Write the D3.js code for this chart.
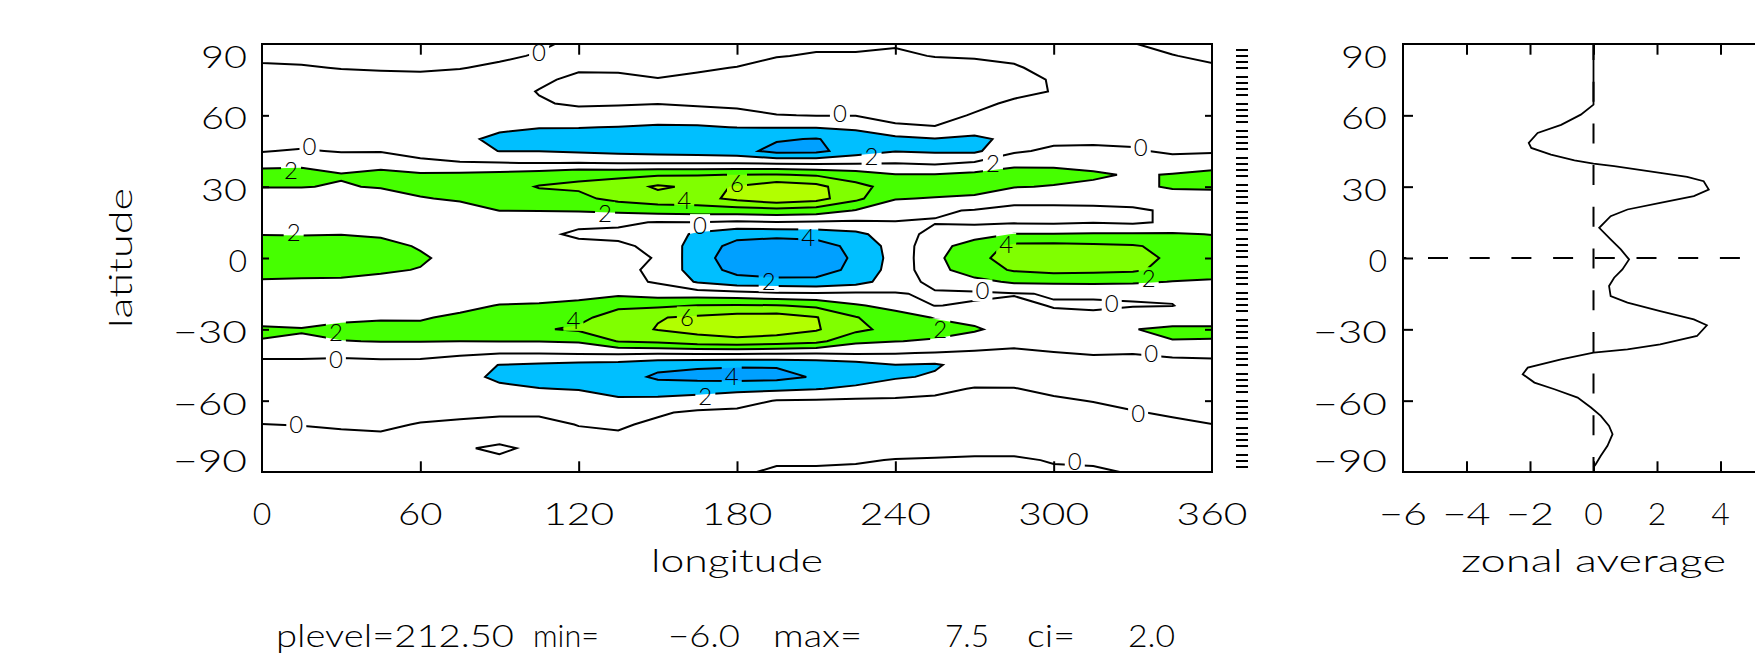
<!DOCTYPE html>
<html>
<head>
<meta charset="utf-8">
<title>plevel 212.50</title>
<script src="https://cdn.jsdelivr.net/npm/d3@7/dist/d3.min.js"></script>
<style>
  body { margin: 0; background: #ffffff; }
  svg text { font-family: Lato, "DejaVu Sans", sans-serif; font-weight: 300; fill: #000; }
</style>
</head>
<body>
<svg id="chart" width="1755" height="664"></svg>
<script>
// grid of the field: longitudes (columns) and latitudes (rows, north to south)
var lons = [0, 15, 30, 45, 60, 75, 90, 105, 120, 135, 150, 165, 180, 195, 210, 225, 240, 255, 270, 285, 300, 315, 330, 345, 360];
var lats = [90, 85, 80, 75, 70, 65, 60, 55, 50, 45, 40, 35, 30, 25, 20, 15, 10, 5, 0,
            -5, -10, -15, -20, -25, -30, -35, -40, -45, -50, -55, -60, -65, -70, -75, -80, -85, -90];

// values, one row per latitude
var field = [
  [0.6, 0.6, 0.6, 0.6, 0.6, 0.6, 0.5, 0.2, -0.3, -0.4, -0.5, -0.5, -0.5, -0.3, -0.2, -0.2, -0.1, -0.1, -0.2, -0.2, -0.2, -0.2, -0.05, 0.4, 0.6],
  [0.3, 0.3, 0.4, 0.4, 0.4, 0.3, 0.2, -0.1, -0.4, -0.5, -0.6, -0.6, -0.5, -0.05, 0.1, 0.1, 0.2, -0.05, -0.1, -0.1, -0.2, -0.2, -0.1, -0.05, 0.3],
  [-0.2, -0.1, 0.05, 0.1, 0.15, 0.05, -0.2, -0.5, -0.3, -0.3, -0.3, -0.2, 0.05, 0.4, 0.6, 0.6, 0.6, 0.5, 0.3, 0.05, -0.15, -0.2, -0.3, -0.3, -0.2],
  [-0.6, -0.5, -0.4, -0.3, -0.3, -0.4, -0.6, -0.4, 0.5, 0.4, 0.05, 0.3, 0.6, 0.9, 1.1, 1.0, 0.9, 0.8, 0.6, 0.4, -0.1, -0.3, -0.4, -0.5, -0.6],
  [-0.8, -0.8, -0.7, -0.7, -0.7, -0.8, -0.9, 0.1, 0.9, 0.8, 0.6, 0.7, 0.9, 1.1, 1.2, 1.1, 1.0, 0.8, 0.5, 0.3, -0.05, -0.4, -0.5, -0.6, -0.8],
  [-1.0, -1.0, -0.9, -0.9, -0.9, -1.0, -1.1, -0.2, 0.3, 0.2, 0.05, 0.3, 0.5, 0.7, 0.8, 0.7, 0.7, 0.6, 0.3, -0.2, -0.3, -0.5, -0.6, -0.7, -1.0],
  [-1.1, -1.1, -1.0, -1.0, -1.0, -1.2, -1.3, -1.2, -0.9, -1.0, -1.2, -1.0, -0.7, -0.05, 0.05, 0.05, 0.4, 0.4, -0.1, -0.6, -0.6, -0.6, -0.7, -0.8, -1.1],
  [-1.2, -1.2, -1.1, -1.1, -1.1, -1.4, -1.6, -1.95, -1.95, -2.05, -2.2, -2.2, -1.95, -1.9, -1.9, -1.6, -0.2, -0.05, -0.8, -0.9, -0.8, -0.7, -0.7, -0.9, -1.2],
  [-1.0, -0.9, -0.8, -0.8, -0.9, -1.5, -2.5, -2.6, -2.8, -3.0, -3.2, -3.4, -3.6, -3.8, -4.1, -3.2, -2.6, -2.1, -2.5, -1.4, -0.5, -0.4, -0.4, -0.8, -1.0],
  [-0.1, 0.2, -0.15, -0.1, -0.6, -1.0, -2.05, -2.05, -2.3, -2.6, -2.8, -3.0, -3.3, -4.6, -4.5, -3.0, -2.1, -2.3, -2.4, -0.3, 0.4, 0.4, 0.2, -0.3, -0.2],
  [1.1, 1.3, 1.2, 1.2, 0.4, 0.1, 0.05, -0.05, 0.05, -0.1, -0.1, -0.1, -0.1, -0.3, -0.4, -0.2, -0.05, -0.3, 0.2, 1.5, 1.6, 1.3, 1.0, 0.8, 1.0],
  [3.0, 3.0, 2.1, 2.6, 2.3, 2.4, 2.6, 3.0, 3.6, 3.6, 3.8, 3.9, 4.05, 4.1, 3.8, 3.0, 2.1, 2.1, 2.5, 2.8, 2.6, 2.3, 1.8, 2.1, 2.6],
  [2.05, 2.05, 1.9, 2.1, 2.5, 2.8, 3.2, 4.1, 4.3, 4.9, 6.3, 5.6, 6.1, 7.2, 6.6, 4.6, 3.2, 2.9, 2.9, 2.1, 1.9, 1.6, 1.6, 2.2, 2.2],
  [1.4, 1.3, 1.3, 1.4, 1.9, 2.2, 2.8, 3.3, 3.5, 4.6, 5.2, 5.3, 6.5, 7.5, 6.8, 4.5, 2.1, 1.9, 1.6, 0.5, 0.4, 0.3, 0.8, 1.2, 1.4],
  [1.0, 1.0, 1.0, 1.0, 1.1, 1.4, 2.02, 2.05, 2.15, 2.4, 2.8, 3.0, 3.1, 3.3, 3.0, 1.9, 0.9, 0.2, -0.1, -0.4, -0.3, -0.2, -0.3, 0.3, 1.0],
  [1.0, 1.0, 1.1, 1.0, 0.9, 0.9, 1.2, 1.0, 0.4, 0.3, -0.1, -0.05, -0.3, -0.1, -0.2, -0.3, -0.1, -0.1, -0.3, -0.2, -0.3, -0.1, -0.3, 0.3, 1.0],
  [1.95, 1.9, 1.95, 1.7, 1.0, 0.7, 0.8, 0.4, -0.3, -0.4, -0.6, -2.4, -3.4, -3.4, -3.2, -2.5, -0.9, 0.6, 1.2, 2.1, 2.1, 2.2, 2.2, 2.2, 1.95],
  [2.8, 2.9, 3.0, 2.7, 1.8, 0.8, 0.7, 0.6, 0.5, 0.3, -0.4, -3.0, -4.6, -5.2, -4.9, -3.4, -1.2, 1.3, 2.9, 4.5, 4.6, 4.4, 4.2, 3.4, 2.8],
  [3.0, 3.1, 3.2, 2.9, 2.3, 1.2, 0.8, 0.7, 0.6, 0.5, -0.1, -3.2, -5.0, -5.9, -5.5, -3.6, -1.3, 1.5, 3.6, 4.6, 5.0, 4.9, 4.6, 3.7, 3.0],
  [2.7, 2.7, 2.8, 2.3, 1.9, 0.8, 0.7, 0.6, 0.5, 0.5, -0.4, -3.0, -4.6, -5.3, -5.0, -3.4, -1.2, 1.3, 3.1, 4.2, 4.6, 4.5, 4.3, 3.4, 2.7],
  [1.8, 1.7, 1.6, 1.4, 1.1, 0.6, 0.6, 0.6, 0.5, 0.6, -0.2, -2.2, -3.2, -3.3, -3.4, -2.8, -0.9, 0.5, 1.4, 2.3, 2.4, 2.4, 2.3, 1.95, 1.8],
  [1.2, 1.1, 1.0, 0.9, 0.8, 0.7, 1.0, 1.2, 1.4, 1.6, 1.2, 1.0, 0.7, 0.3, 0.2, 0.3, 0.1, -0.2, -0.3, -0.1, 0.1, 0.2, 0.2, 0.3, 1.2],
  [1.0, 0.9, 0.9, 0.9, 1.0, 1.4, 2.1, 2.2, 2.5, 3.6, 3.6, 4.05, 4.2, 4.1, 3.6, 2.2, 1.4, -0.05, 0.2, 0.4, -0.1, -0.2, -0.1, -0.05, 1.0],
  [1.4, 1.2, 1.6, 1.8, 1.8, 2.4, 2.9, 3.3, 3.5, 4.9, 5.9, 6.3, 6.8, 6.9, 6.1, 4.1, 2.8, 1.9, 1.5, 1.0, 0.4, 0.3, 0.9, 1.1, 1.4],
  [2.2, 2.1, 2.5, 2.6, 2.5, 2.7, 3.0, 3.8, 4.3, 5.2, 6.1, 6.6, 7.0, 6.8, 6.2, 4.5, 3.3, 2.7, 2.2, 1.3, 0.8, 0.9, 1.95, 2.3, 2.2],
  [1.95, 1.8, 1.95, 2.05, 2.05, 2.02, 2.05, 2.05, 2.2, 4.1, 4.5, 5.2, 5.5, 5.2, 4.6, 2.4, 2.05, 1.8, 1.2, 0.6, 0.5, 0.8, 1.6, 1.95, 1.95],
  [0.6, 0.6, 0.5, 0.65, 0.6, 0.3, 0.05, 0.1, 0.2, 0.3, 0.2, 0.3, 0.3, 0.2, 0.1, 0.2, 0.1, -0.1, -0.3, -0.4, -0.05, 0.1, 0.05, 0.4, 0.5],
  [-0.6, -0.6, -0.7, -0.6, -0.6, -1.0, -2.05, -2.3, -2.6, -2.8, -3.5, -3.7, -3.8, -3.8, -3.4, -2.8, -2.05, -2.2, -1.2, -0.8, -0.6, -0.5, -0.6, -0.7, -0.6],
  [-1.0, -1.0, -1.0, -1.0, -1.0, -1.3, -2.4, -2.8, -3.0, -3.2, -4.3, -4.6, -4.8, -4.6, -3.8, -3.0, -2.2, -1.8, -0.9, -0.5, -0.7, -0.8, -0.9, -1.0, -1.0],
  [-1.1, -1.1, -1.1, -1.1, -1.1, -1.2, -1.6, -1.95, -2.1, -2.7, -3.0, -2.8, -2.5, -2.4, -2.1, -1.6, -1.0, -0.4, 0.1, 0.05, -0.3, -0.6, -0.8, -1.0, -1.1],
  [-0.9, -0.9, -0.9, -0.9, -0.9, -1.0, -1.0, -1.2, -1.2, -1.7, -1.5, -1.2, -0.8, 0.1, 0.2, 0.3, 0.3, 0.3, 0.4, 0.4, 0.2, -0.05, -0.4, -0.7, -0.9],
  [-0.5, -0.5, -0.6, -0.6, -0.5, -0.4, -0.2, -0.2, -0.6, -0.9, -0.2, 0.3, 0.4, 0.5, 0.5, 0.5, 0.5, 0.5, 0.5, 0.5, 0.5, 0.4, 0.1, -0.2, -0.5],
  [0.02, -0.05, -0.2, -0.3, 0.1, 0.3, 0.4, 0.4, -0.05, -0.2, 0.3, 0.5, 0.5, 0.5, 0.5, 0.5, 0.5, 0.5, 0.5, 0.5, 0.5, 0.5, 0.4, 0.3, 0.02],
  [0.4, 0.4, 0.3, 0.2, 0.4, 0.4, 0.3, 0.4, 0.3, 0.2, 0.4, 0.4, 0.4, 0.4, 0.4, 0.4, 0.4, 0.4, 0.4, 0.4, 0.4, 0.4, 0.4, 0.4, 0.4],
  [0.5, 0.5, 0.5, 0.5, 0.5, 0.1, -0.15, 0.2, 0.4, 0.4, 0.4, 0.4, 0.4, 0.3, 0.3, 0.3, 0.2, 0.2, 0.2, 0.2, 0.2, 0.3, 0.3, 0.4, 0.5],
  [0.4, 0.4, 0.4, 0.4, 0.4, 0.3, 0.15, 0.2, 0.3, 0.3, 0.3, 0.2, 0.2, 0.1, 0.1, 0.05, -0.02, -0.05, -0.1, -0.1, 0.05, 0.1, 0.2, 0.3, 0.4],
  [0.3, 0.3, 0.3, 0.3, 0.3, 0.3, 0.3, 0.3, 0.3, 0.3, 0.2, 0.1, 0.1, -0.1, -0.1, -0.1, -0.1, -0.1, -0.2, -0.2, -0.1, -0.1, 0.05, 0.2, 0.3]
];

// contour interval 2
var lineLevels = [-6, -4, -2, 0, 2, 4, 6];
var warmLevels = [2, 4, 6];
var coldLevels = [-2, -4];

var lonTicks = [0, 60, 120, 180, 240, 300, 360];
var latTicks = [90, 60, 30, 0, -30, -60, -90];
var meanTicks = [-6, -4, -2, 0, 2, 4, 6];

// zonal average profile (right panel)
var meanLat = [90, 64.5, 60.3, 56, 52.6, 48.4, 46.3, 43.5, 41.1, 39.7, 38.6, 35.8, 34.1, 32.3, 28.8, 26, 23.2, 20.4, 17.6, 12.7,
               7.8, 3.6, -0.6, -4.8, -8.3, -11.8, -16, -18.8, -22.3, -25.8, -28.3, -32.8, -36.3, -38.4, -39.8, -42.6, -46.1,
               -48.9, -52.4, -55.2, -58.7, -62.9, -66.4, -70.6, -74.1, -79, -83.2, -86.7, -88];
var meanVal = [0, 0, -0.4, -1.02, -1.76, -2.04, -1.96, -1.34, -0.6, 0, 0.65, 2.1, 2.95, 3.47, 3.63, 3.16, 2.1, 1.07, 0.54, 0.18,
               0.54, 0.86, 1.12, 0.91, 0.65, 0.49, 0.54, 1.07, 2.1, 3.16, 3.57, 3.26, 2.1, 1.07, 0, -1.02, -2.07,
               -2.23, -1.86, -1.23, -0.5, -0.08, 0.23, 0.49, 0.6, 0.44, 0.23, 0.07, 0];

// contour labels
var labelLon = [105, 18, 219, 333, 11, 231, 277, 130, 160, 180, 166, 12, 207, 192, 282, 336, 273, 322, 118, 161, 257, 28, 28, 337, 178, 168, 13, 332, 308];
var labelLat = [86.5, 47, 61, 46.5, 37, 43, 40, 19, 24.5, 31.5, 14, 11, 9, -9.5, 6, -8.5, -13.5, -19, -26, -25, -30, -31, -42.5, -40, -49.5, -58, -70, -65, -85.5];
var labelText = ["0", "0", "0", "0", "2", "2", "2", "2", "4", "6", "0", "2", "4", "2", "4", "2", "0", "0", "4", "6", "2", "2", "0", "0", "4", "2", "0", "0", "0"];

var footer = ["plevel=212.50", "min=", "\u22126.0", "max=", "7.5", "ci=", "2.0"];

// ---- layout and styles ----
var W = 1755, H = 664;
var warmColors = ["#46ff00", "#80ff00", "#b2ff00"];
var coldColors = ["#00bfff", "#00a0ff"];
var map = { left: 262, right: 1212, top: 44, bottom: 472 };
var side = { left: 1403, right: 1784 };
var footerX = [276, 533, 668, 773, 945, 1027, 1128];
var footerW = [238, 66, 72, 89, 44, 48, 47];

var x = d3.scaleLinear().domain([0, 360]).range([map.left, map.right]);
var y = d3.scaleLinear().domain([-90, 90]).range([map.bottom, map.top]);
var zx = d3.scaleLinear().domain([-6, 6]).range([side.left, side.right]);

var svg = d3.select("#chart");
var defs = svg.append("defs");

defs.append("clipPath").attr("id", "mapClip").append("rect")
    .attr("x", map.left).attr("y", map.top)
    .attr("width", map.right - map.left).attr("height", map.bottom - map.top);

function minus(v) { return v < 0 ? "\u2212" + Math.abs(v) : String(v); }

// widen a label to the spacing of the picture's stroke font
function spread(sel, step, glyph) {
    sel.each(function () {
        var t = d3.select(this), n = t.text().length;
        if (n > 1) t.attr("textLength", (n - 1) * step + glyph).attr("lengthAdjust", "spacingAndGlyphs");
    });
}

// ---- contour map ----
var nx = lons.length, ny = lats.length;
var values = d3.merge(field);
var dLon = lons[1] - lons[0], dLat = lats[1] - lats[0];

// d3.contours puts sample i at i + 0.5
var gridToScreen = d3.geoTransform({
    point: function (gx, gy) {
        this.stream.point(x(lons[0] + (gx - 0.5) * dLon), y(lats[0] + (gy - 0.5) * dLat));
    }
});
var path = d3.geoPath(gridToScreen);

var mapG = svg.append("g").attr("clip-path", "url(#mapClip)");

var warm = d3.contours().size([nx, ny]).thresholds(warmLevels)(values);
var cold = d3.contours().size([nx, ny]).thresholds(coldLevels.map(function (v) { return -v; }))(values.map(function (v) { return -v; }));

mapG.append("g").selectAll("path").data(warm).enter().append("path")
    .attr("d", path)
    .attr("fill", function (d, i) { return warmColors[i]; });

mapG.append("g").selectAll("path").data(cold).enter().append("path")
    .attr("d", path)
    .attr("fill", function (d, i) { return coldColors[i]; });

// gaps in the lines where the labels sit
var labels = labelText.map(function (t, i) { return { lon: labelLon[i], lat: labelLat[i], text: t }; });
var mask = defs.append("mask").attr("id", "labelGaps").attr("maskUnits", "userSpaceOnUse")
    .attr("x", 0).attr("y", 0).attr("width", W).attr("height", H);
mask.append("rect").attr("width", W).attr("height", H).attr("fill", "#fff");
mask.selectAll("rect.gap").data(labels).enter().append("rect")
    .attr("class", "gap")
    .attr("x", function (d) { return x(d.lon) - 10; })
    .attr("y", function (d) { return y(d.lat) - 11; })
    .attr("width", 20).attr("height", 22)
    .attr("fill", "#000");

var lines = d3.contours().size([nx, ny]).thresholds(lineLevels)(values);
mapG.append("g").attr("mask", "url(#labelGaps)")
    .selectAll("path").data(lines).enter().append("path")
    .attr("d", path)
    .attr("fill", "none")
    .attr("stroke", "#000")
    .attr("stroke-width", 2);

mapG.append("g").selectAll("text").data(labels).enter().append("text")
    .attr("x", function (d) { return x(d.lon); })
    .attr("y", function (d) { return y(d.lat) + 9; })
    .attr("text-anchor", "middle")
    .style("font-size", "24px")
    .text(function (d) { return d.text; });

// frame and ticks of the map
svg.append("rect")
    .attr("x", map.left).attr("y", map.top)
    .attr("width", map.right - map.left).attr("height", map.bottom - map.top)
    .attr("fill", "none").attr("stroke", "#000").attr("stroke-width", 2);

var innerLon = lonTicks.slice(1, -1), innerLat = latTicks.slice(1, -1);

function tickGroup(axis, tx, ty) {
    var g = svg.append("g").attr("transform", "translate(" + tx + "," + ty + ")").call(axis);
    g.select(".domain").remove();
    g.selectAll("line").attr("stroke-width", 2);
    return g;
}
tickGroup(d3.axisBottom(x).tickValues(innerLon).tickSize(-10.7).tickFormat(""), 0, map.bottom);
tickGroup(d3.axisTop(x).tickValues(innerLon).tickSize(-10.7).tickFormat(""), 0, map.top);
tickGroup(d3.axisLeft(y).tickValues(innerLat).tickSize(-7).tickFormat(""), map.left, 0);
tickGroup(d3.axisRight(y).tickValues(innerLat).tickSize(-7).tickFormat(""), map.right, 0);

function latLabelY(v) { return Math.max(map.top + 24, Math.min(map.bottom, y(v) + 14)); }

svg.append("g").selectAll("text").data(lonTicks).enter().append("text")
    .attr("x", function (d) { return x(d); })
    .attr("y", 525)
    .attr("text-anchor", "middle")
    .style("font-size", "32px")
    .text(minus)
    .call(spread, 26.5, 18);

svg.append("g").selectAll("text").data(latTicks).enter().append("text")
    .attr("x", map.left - 15)
    .attr("y", latLabelY)
    .attr("text-anchor", "end")
    .style("font-size", "32px")
    .text(minus)
    .call(spread, 28, 18);

svg.append("text")
    .attr("x", (map.left + map.right) / 2).attr("y", 572)
    .attr("text-anchor", "middle")
    .attr("textLength", 172).attr("lengthAdjust", "spacingAndGlyphs")
    .style("font-size", "32px")
    .text("longitude");

svg.append("text")
    .attr("transform", "translate(132," + (map.top + map.bottom) / 2 + ") rotate(-90)")
    .attr("text-anchor", "middle")
    .attr("textLength", 140).attr("lengthAdjust", "spacingAndGlyphs")
    .style("font-size", "32px")
    .text("latitude");

// ladder of short dashes beside the map
var ladder = [];
d3.range(16).forEach(function (g) {
    d3.range(4).forEach(function (k) {
        var yy = map.top + 6 + g * 27 + k * 6;
        if (yy <= map.bottom - 4) ladder.push(yy);
    });
});
svg.append("g").selectAll("line").data(ladder).enter().append("line")
    .attr("x1", map.right + 24).attr("x2", map.right + 36)
    .attr("y1", function (d) { return d; }).attr("y2", function (d) { return d; })
    .attr("stroke", "#000").attr("stroke-width", 2);

// ---- zonal average panel ----
svg.append("rect")
    .attr("x", side.left).attr("y", map.top)
    .attr("width", side.right - side.left).attr("height", map.bottom - map.top)
    .attr("fill", "none").attr("stroke", "#000").attr("stroke-width", 2);

var innerMean = meanTicks.slice(1, -1);
tickGroup(d3.axisBottom(zx).tickValues(innerMean).tickSize(-10.7).tickFormat(""), 0, map.bottom);
tickGroup(d3.axisTop(zx).tickValues(innerMean).tickSize(-10.7).tickFormat(""), 0, map.top);
tickGroup(d3.axisLeft(y).tickValues(innerLat).tickSize(-10).tickFormat(""), side.left, 0);

svg.append("line")
    .attr("x1", zx(0)).attr("x2", zx(0)).attr("y1", y(90)).attr("y2", y(-90))
    .attr("stroke", "#000").attr("stroke-width", 2)
    .attr("stroke-dasharray", "20 21.7").attr("stroke-dashoffset", 4);

svg.append("line")
    .attr("x1", zx(-6)).attr("x2", zx(6)).attr("y1", y(0)).attr("y2", y(0))
    .attr("stroke", "#000").attr("stroke-width", 2)
    .attr("stroke-dasharray", "20 21.7").attr("stroke-dashoffset", 16.7);

var profile = meanLat.map(function (la, i) { return { lat: la, v: meanVal[i] }; });
svg.append("path")
    .datum(profile)
    .attr("d", d3.line().x(function (d) { return zx(d.v); }).y(function (d) { return y(d.lat); }))
    .attr("fill", "none").attr("stroke", "#000").attr("stroke-width", 1.8);

// only the tick labels that fall inside the window
svg.append("g").selectAll("text")
    .data(meanTicks.filter(function (d) { return zx(d) + 12 < W; }))
    .enter().append("text")
    .attr("x", function (d) { return zx(d); })
    .attr("y", 525)
    .attr("text-anchor", "middle")
    .style("font-size", "32px")
    .text(minus)
    .call(spread, 30, 18);

svg.append("g").selectAll("text").data(latTicks).enter().append("text")
    .attr("x", side.left - 16)
    .attr("y", latLabelY)
    .attr("text-anchor", "end")
    .style("font-size", "32px")
    .text(minus)
    .call(spread, 28, 18);

svg.append("text")
    .attr("x", (side.left + side.right) / 2).attr("y", 572)
    .attr("text-anchor", "middle")
    .attr("textLength", 265).attr("lengthAdjust", "spacingAndGlyphs")
    .style("font-size", "32px")
    .text("zonal average");

// ---- footer line ----
svg.append("g").selectAll("text").data(footer).enter().append("text")
    .attr("x", function (d, i) { return footerX[i]; })
    .attr("y", 647)
    .attr("textLength", function (d, i) { return footerW[i]; })
    .attr("lengthAdjust", "spacingAndGlyphs")
    .style("font-size", "31px")
    .text(function (d) { return d; });
</script>
</body>
</html>
